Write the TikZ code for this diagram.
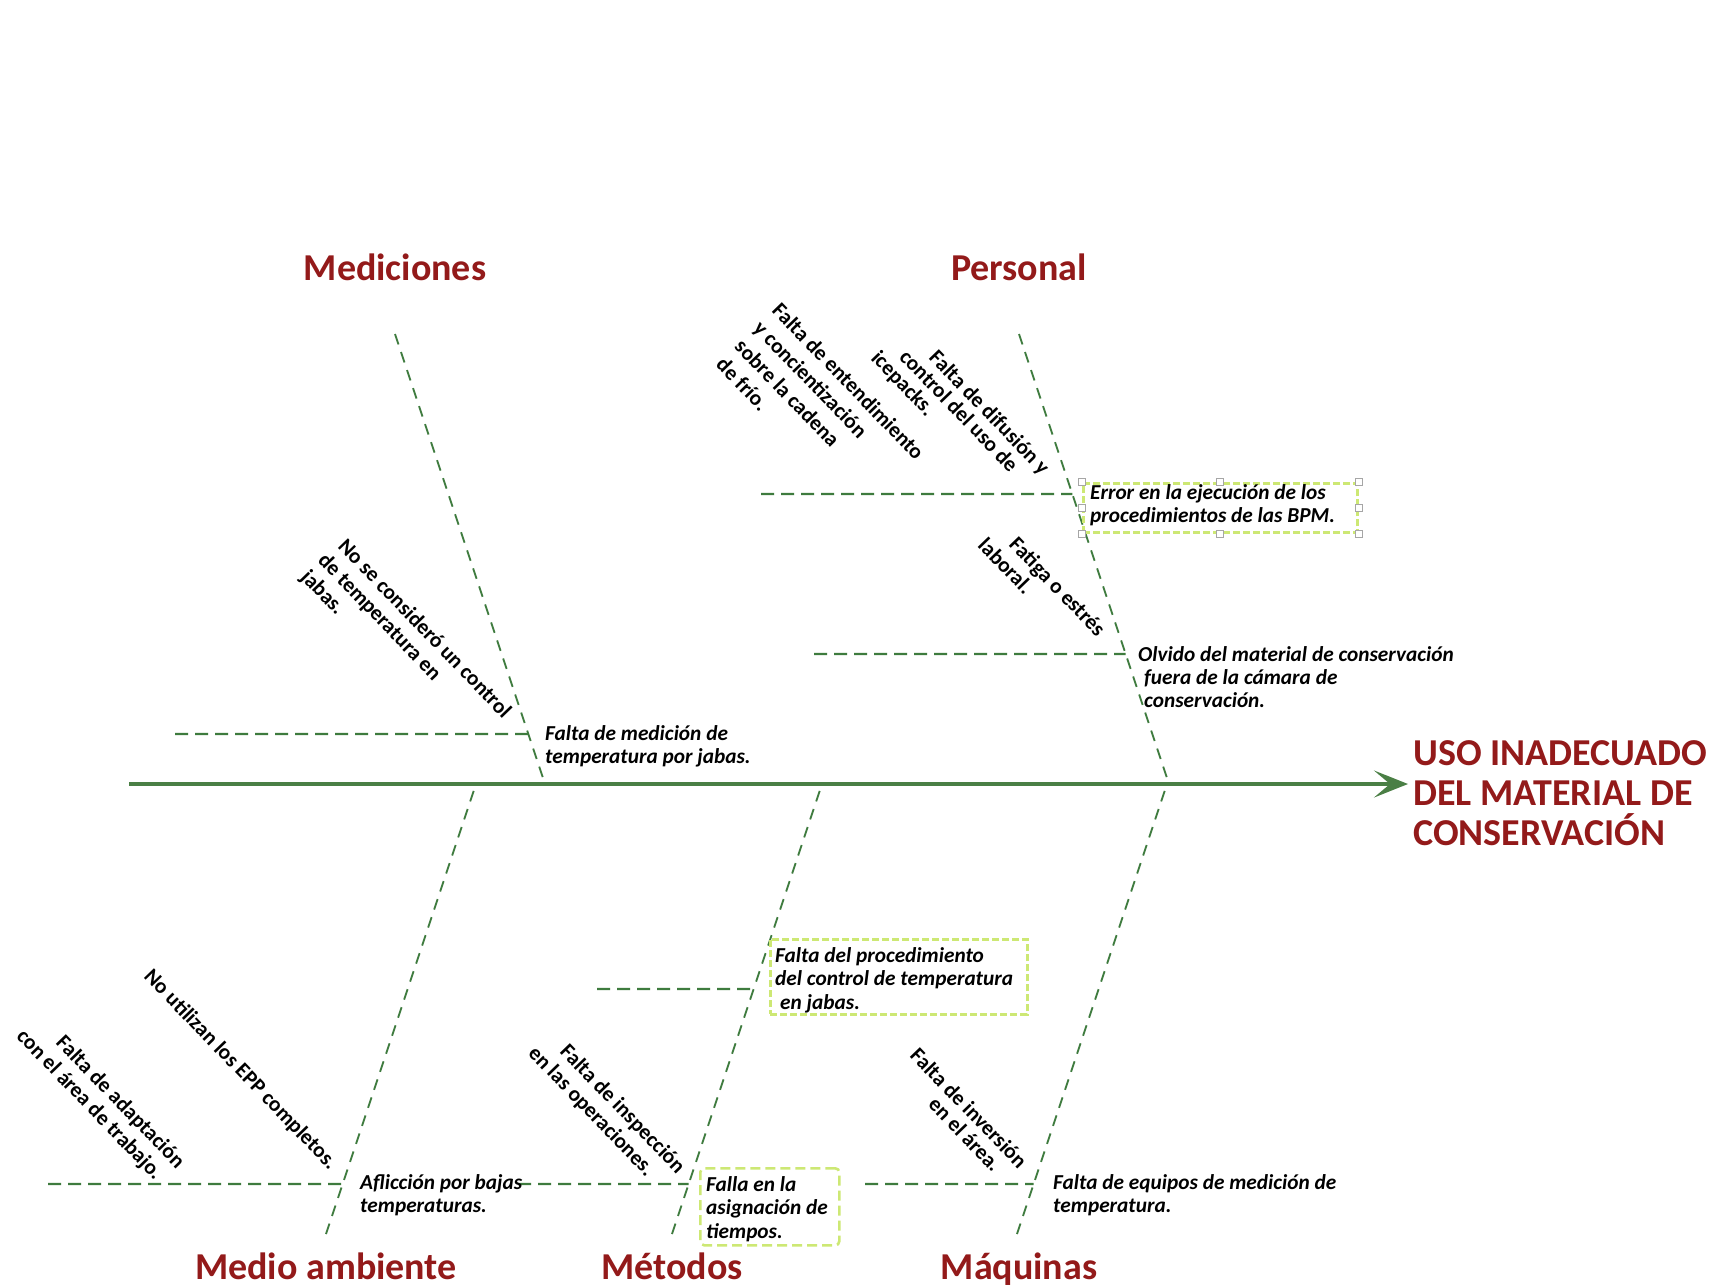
\documentclass[tikz,border=0pt]{standalone}
\usepackage{fontspec}
\setmainfont{Carlito}
\usetikzlibrary{arrows.meta,calc}
\definecolor{causered}{HTML}{931A1A}
\definecolor{spinegreen}{HTML}{4A7F45}
\definecolor{bonegreen}{HTML}{3E7B3E}
\definecolor{boxgreen}{HTML}{CDE874}

\begin{document}
\begin{tikzpicture}[x=1pt,y=-1pt,
  spine/.style={draw=spinegreen, line width=3.3pt, -{Stealth[length=34pt,width=27pt,inset=16pt]}},
  bone/.style={draw=bonegreen, line width=1.8pt, dash pattern=on 11pt off 8pt},
  twig/.style={draw=bonegreen, line width=2.2pt, dash pattern=on 13pt off 7pt},
  category/.style={font=\fontsize{38}{40}\selectfont\bfseries, text=causered, inner sep=0pt, anchor=base},
  effect/.style={font=\fontsize{38}{40}\selectfont\bfseries, text=causered, inner sep=0pt, align=left, anchor=base west},
  cause/.style={font=\fontsize{21.3}{#1}\selectfont\bfseries\itshape, inner sep=0pt, align=left, anchor=base west},
  cause/.default=22.5,
  subcause/.style={font=\fontsize{21.5}{#1}\selectfont\bfseries, inner sep=0pt, align=left, rotate=-46, anchor=north west},
  subcause/.default=24,
  causebox/.style={draw=boxgreen, line width=2.6pt, dash pattern=on 7pt off 3pt, inner sep=0pt, anchor=north west},
  handle/.style={draw=gray!70, fill=white, line width=0.8pt, minimum size=7pt, inner sep=0pt}
]
\useasboundingbox[fill=white] (0,0) rectangle (1717,1288);

% ---- head and spine (base anchors of multi-line nodes sit on the last line) ----
\node[effect] (effect) at (1413,845) {USO INADECUADO\\DEL MATERIAL DE\\CONSERVACIÓN};
\coordinate (tail) at (129,784);
\draw[spine, shorten >=5pt] (tail) -- (tail -| effect.west);

% ---- categories ----
\node[category] (med) at (395,280) {Mediciones};
\node[category] (per) at (1019,280) {Personal};
\node[category] (amb) at (326,1279) {Medio ambiente};
\node[category] (met) at (672,1279) {Métodos};
\node[category] (maq) at (1019,1279) {Máquinas};

% ---- bones: free end and junction on the spine ----
\coordinate (tmed) at (395,334);  \coordinate (jmed) at (545,784);
\coordinate (tper) at (1019,334); \coordinate (jper) at (1169,784);
\coordinate (bamb) at (326,1234); \coordinate (jamb) at (476,784);
\coordinate (bmet) at (672,1234); \coordinate (jmet) at (822,784);
\coordinate (bmaq) at (1017,1234);\coordinate (jmaq) at (1167,784);
\draw[bone] (tmed) -- (jmed);
\draw[bone] (tper) -- (jper);
\draw[bone] (bamb) -- (jamb);
\draw[bone] (bmet) -- (jmet);
\draw[bone] (bmaq) -- (jmaq);

% ---- twigs ----
\coordinate (kmed) at ($(tmed)!{400/450}!(jmed)$);  \coordinate (smed) at (175,734);
\coordinate (kper1) at ($(tper)!{160/450}!(jper)$); \coordinate (sper1) at (761,494);
\coordinate (kper2) at ($(tper)!{320/450}!(jper)$); \coordinate (sper2) at (814,654);
\coordinate (kmet1) at ($(jmet)!{205/450}!(bmet)$); \coordinate (smet1) at (597,989);
\coordinate (kamb) at ($(jamb)!{400/450}!(bamb)$);  \coordinate (samb) at (48,1184);
\coordinate (kmet2) at ($(jmet)!{400/450}!(bmet)$); \coordinate (smet2) at (518,1184);
\coordinate (kmaq) at ($(jmaq)!{400/450}!(bmaq)$);  \coordinate (smaq) at (865,1184);
\draw[twig] (smed) -- (kmed);
\draw[twig] (sper1) -- (kper1);
\draw[twig] (sper2) -- (kper2);
\draw[twig] (smet1) -- (kmet1);
\draw[twig] (samb) -- (kamb);
\draw[twig] (smet2) -- (kmet2);
\draw[twig] (smaq) -- (kmaq);

% ---- Mediciones ----
\node[cause] (c-med) at (545,763) {Falta de medición de\\temperatura por jabas.};
\node[subcause] (s-med) at (348,537) {No se consideró un control\\\hspace*{-4pt}de temperatura en\\\hspace*{-4pt}jabas.};

% ---- Personal ----
\node[causebox, minimum width=274pt, minimum height=49pt] (errbox) at (1082,482) {};
\foreach \a in {north west,north,north east,east,south east,south,south west,west}
  \node[handle] (h-\a) at (errbox.\a) {};
\node[cause] (c-per1) at (1090,522) {Error en la ejecución de los\\procedimientos de las BPM.};
\node[cause=23] (c-per2) at (1138,707) {Olvido del material de conservación\\\hspace*{6pt}fuera de la cámara de\\\hspace*{6pt}conservación.};
\node[subcause=26] (s-per1) at (782,301) {Falta de entendimiento\\y concientización\\sobre la cadena\\de frío.};
\node[subcause=21] (s-per2) at (939,348) {Falta de difusión y\\\hspace*{-21pt}control del uso de\\\hspace*{-40pt}icepacks.};
\node[subcause=23] (s-per3) at (1019,535) {Fatiga o estrés\\\hspace*{-21pt}laboral.};

% ---- Medio ambiente ----
\node[cause] (c-amb) at (360,1212) {Aflicción por bajas\\temperaturas.};
\node[subcause] (s-amb1) at (154,967) {No utilizan los EPP completos.};
\node[subcause] (s-amb2) at (66,1033) {Falta de adaptación\\\hspace*{-32pt}con el área de trabajo.};

% ---- Métodos ----
\node[causebox, minimum width=257pt, minimum height=75pt] (procbox) at (769,938) {};
\node[cause=23.5] (c-met1) at (775,1009) {Falta del procedimiento\\del control de temperatura\\\hspace*{5pt}en jabas.};
\node[causebox, rounded corners=4pt, dash pattern=on 10pt off 5pt, minimum width=139pt, minimum height=77pt] (timebox) at (699,1167) {};
\node[cause=23.5] (c-met2) at (706,1238) {Falla en la\\asignación de\\tiempos.};
\node[subcause] (s-met) at (570,1042) {Falta de inspección\\\hspace*{-21pt}en las operaciones.};

% ---- Máquinas ----
\node[cause] (c-maq) at (1053,1212) {Falta de equipos de medición de\\temperatura.};
\node[subcause=21] (s-maq) at (920,1046) {Falta de inversión\\\hspace*{48pt}en el área.};
\end{tikzpicture}
\end{document}
